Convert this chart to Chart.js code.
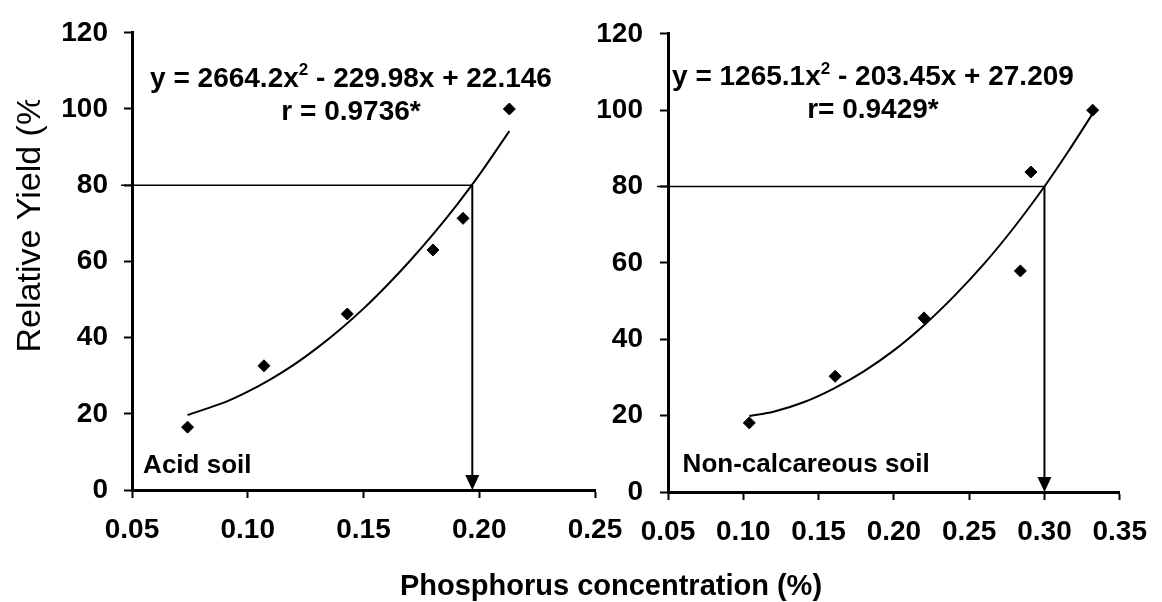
<!DOCTYPE html>
<html>
<head>
<meta charset="utf-8">
<script src="https://cdn.jsdelivr.net/npm/chart.js@4.4.1/dist/chart.umd.min.js"></script>
<style>
html, body { margin: 0; padding: 0; background: #fff; }
#wrap { position: relative; width: 1162px; height: 602px; }
canvas { position: absolute; left: 0; top: 0; }
</style>
</head>
<body>
<div id="wrap">
  <canvas id="acid" width="1162" height="602"></canvas>
  <canvas id="noncalc" width="1162" height="602"></canvas>
</div>
<script>
// acid soil
var acidX = [0.074, 0.107, 0.143, 0.180, 0.193, 0.213];
var acidY = [16.5, 32.6, 46.2, 63.0, 71.3, 100];
var acidTrendX = [0.074, 0.09, 0.10, 0.11, 0.12, 0.13, 0.14, 0.15, 0.16, 0.17, 0.18, 0.19, 0.20, 0.213];
var acidTrendY = [19.7, 23.0, 25.8, 29.1, 32.9, 37.3, 42.2, 47.6, 53.6, 60.1, 67.1, 74.6, 82.7, 94.2];
var acidCut = [0.197, 80];
var acidXTicks = [0.05, 0.10, 0.15, 0.20, 0.25];

// non-calcareous soil
var ncX = [0.104, 0.161, 0.220, 0.284, 0.291, 0.332];
var ncY = [18.1, 30.3, 45.6, 57.9, 83.8, 100];
var ncTrendX = [0.104, 0.12, 0.14, 0.16, 0.18, 0.20, 0.22, 0.24, 0.26, 0.28, 0.30, 0.315, 0.332];
var ncTrendY = [19.9, 21.0, 23.5, 27.1, 31.6, 37.1, 43.7, 51.3, 59.8, 69.4, 80.0, 88.7, 99.1];
var ncCut = [0.30, 80];
var ncXTicks = [0.05, 0.10, 0.15, 0.20, 0.25, 0.30, 0.35];

var yTicks = [0, 20, 40, 60, 80, 100, 120];

var FONT = 'Arial, "Liberation Sans", sans-serif';
var W = 1162, H = 602;

function pts(xs, ys) {
    return xs.map(function (x, i) { return { x: x, y: ys[i] }; });
}

function drawEq(ctx, parts, cx, y, size) {
    var big = 'bold ' + size + 'px ' + FONT;
    var small = 'bold ' + Math.round(size * 0.6) + 'px ' + FONT;
    ctx.font = big;
    var w1 = ctx.measureText(parts[0]).width;
    var w3 = ctx.measureText(parts[2]).width;
    ctx.font = small;
    var w2 = ctx.measureText(parts[1]).width;
    var x = cx - (w1 + w2 + w3) / 2;
    ctx.textAlign = 'left';
    ctx.textBaseline = 'alphabetic';
    ctx.font = big; ctx.fillText(parts[0], x, y); x += w1;
    ctx.font = small; ctx.fillText(parts[1], x, y - size * 0.42); x += w2;
    ctx.font = big; ctx.fillText(parts[2], x, y);
}

var notes = {
    id: 'notes',
    afterDatasetsDraw: function (chart, args, o) {
        var ctx = chart.ctx, xs = chart.scales.x, ys = chart.scales.y;
        ctx.save();
        ctx.strokeStyle = '#000';
        ctx.fillStyle = '#000';

        // guide line to the 80 % level, with arrow down to the axis
        var cx = xs.getPixelForValue(o.cut[0]);
        var cy = ys.getPixelForValue(o.cut[1]);
        var y0 = ys.getPixelForValue(0);
        ctx.lineWidth = 1.5;
        ctx.beginPath();
        ctx.moveTo(chart.chartArea.left - 11, cy);
        ctx.lineTo(cx, cy);
        ctx.stroke();
        ctx.lineWidth = 2;
        ctx.beginPath();
        ctx.moveTo(cx, cy);
        ctx.lineTo(cx, y0 - 12);
        ctx.stroke();
        ctx.beginPath();
        ctx.moveTo(cx - 7, y0 - 15);
        ctx.lineTo(cx + 7, y0 - 15);
        ctx.lineTo(cx, y0);
        ctx.closePath();
        ctx.fill();

        drawEq(ctx, o.eq, xs.getPixelForValue(o.eqAt[0]), ys.getPixelForValue(o.eqAt[1]), 28);
        ctx.font = 'bold 28px ' + FONT;
        ctx.textAlign = 'center';
        ctx.fillText(o.r, xs.getPixelForValue(o.eqAt[0]), ys.getPixelForValue(o.rAt));
        ctx.font = 'bold 26px ' + FONT;
        ctx.textAlign = 'left';
        ctx.fillText(o.label, xs.getPixelForValue(o.labelAt[0]), ys.getPixelForValue(o.labelAt[1]));

        if (o.titles) {
            ctx.save();
            ctx.beginPath();
            ctx.rect(0, 100, 80, 400);
            ctx.clip();
            ctx.translate(40, 218);
            ctx.rotate(-Math.PI / 2);
            ctx.font = '34px ' + FONT;
            ctx.textAlign = 'center';
            ctx.fillText('Relative Yield (%)', 0, 0);
            ctx.restore();
            ctx.font = 'bold 29px ' + FONT;
            ctx.textAlign = 'center';
            ctx.fillText('Phosphorus concentration (%)', 611, 595);
        }
        ctx.restore();
    }
};

function makeChart(id, d) {
    var ctx = document.getElementById(id).getContext('2d');
    return new Chart(ctx, {
        type: 'scatter',
        data: {
            datasets: [{
                label: 'observed',
                data: pts(d.x, d.y),
                pointStyle: 'rectRot',
                pointRadius: 6,
                pointBorderWidth: 1,
                backgroundColor: '#000',
                borderColor: '#000',
                showLine: false
            }, {
                label: 'trend',
                data: pts(d.tx, d.ty),
                showLine: true,
                pointRadius: 0,
                borderColor: '#000',
                borderWidth: 2,
                tension: 0.3,
                fill: false
            }]
        },
        options: {
            responsive: false,
            animation: false,
            events: [],
            layout: { padding: { left: 0, top: d.top, right: W - d.right, bottom: 0 } },
            plugins: {
                legend: { display: false },
                tooltip: { enabled: false },
                notes: d.notes
            },
            scales: {
                x: {
                    type: 'linear',
                    min: d.xTicks[0],
                    max: d.xTicks[d.xTicks.length - 1],
                    afterBuildTicks: function (s) { s.ticks = d.xTicks.map(function (v) { return { value: v }; }); },
                    afterFit: function (s) { s.height = H - d.bottom; },
                    ticks: {
                        color: '#000',
                        padding: 15,
                        maxRotation: 0,
                        autoSkip: false,
                        font: { family: FONT, size: 28, weight: 'bold' },
                        callback: function (v) { return v.toFixed(2); }
                    },
                    border: { color: '#000', width: 3 },
                    grid: { drawOnChartArea: false, tickLength: 8, tickColor: '#000', tickWidth: 2 }
                },
                y: {
                    min: 0,
                    max: 120,
                    afterBuildTicks: function (s) { s.ticks = yTicks.map(function (v) { return { value: v }; }); },
                    afterFit: function (s) { s.width = d.left; },
                    ticks: {
                        color: '#000',
                        padding: d.yPad,
                        font: { family: FONT, size: 28, weight: 'bold' }
                    },
                    border: { color: '#000', width: 3 },
                    grid: { drawOnChartArea: false, tickLength: 8, tickColor: '#000', tickWidth: 2 }
                }
            }
        },
        plugins: [notes]
    });
}

makeChart('acid', {
    x: acidX, y: acidY, tx: acidTrendX, ty: acidTrendY, xTicks: acidXTicks,
    left: 132, right: 595, top: 25, bottom: 490, yPad: 16,
    notes: {
        cut: acidCut,
        eq: ['y = 2664.2x', '2', ' - 229.98x + 22.146'],
        r: 'r = 0.9736*',
        eqAt: [0.1446, 105.8], rAt: 97.2,
        label: 'Acid soil', labelAt: [0.0548, 4.4],
        titles: true
    }
});

makeChart('noncalc', {
    x: ncX, y: ncY, tx: ncTrendX, ty: ncTrendY, xTicks: ncXTicks,
    left: 668, right: 1131, top: 28, bottom: 492, yPad: 17,
    notes: {
        cut: ncCut,
        eq: ['y = 1265.1x', '2', ' - 203.45x + 27.209'],
        r: 'r= 0.9429*',
        eqAt: [0.1861, 106.5], rAt: 98.0,
        label: 'Non-calcareous soil', labelAt: [0.0597, 5.2],
        titles: false
    }
});
</script>
</body>
</html>
